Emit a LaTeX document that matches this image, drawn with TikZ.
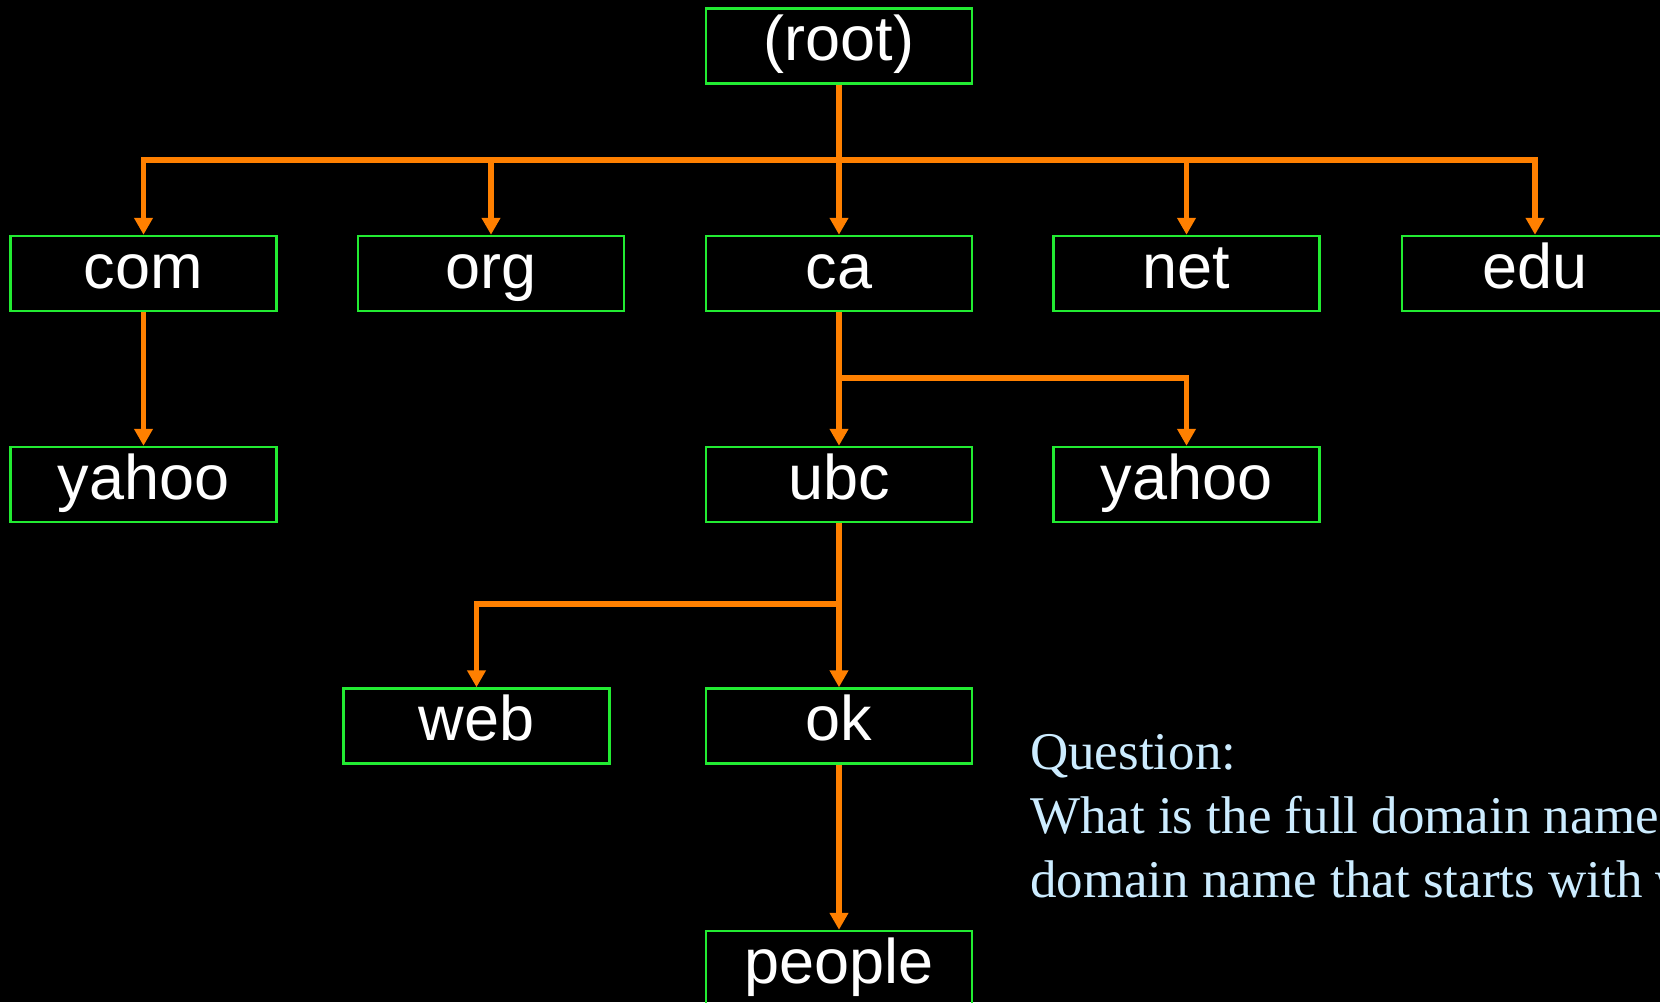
\documentclass[tikz,border=0pt]{standalone}
\usepackage{fontspec}
\setmainfont{Liberation Sans}
\newfontfamily\qfont{Liberation Serif}
\usetikzlibrary{arrows.meta}
\definecolor{boxgreen}{RGB}{34,235,50}
\definecolor{arrorange}{RGB}{255,128,0}
\definecolor{qblue}{RGB}{204,236,255}
\begin{document}
\begin{tikzpicture}[x=1pt,y=-1pt,
  dnsbox/.style={draw=boxgreen,line width=2.5pt,minimum width=266pt,minimum height=75pt,
    inner sep=0pt,text=white,font=\fontsize{63}{63}\selectfont,text height=45pt,text depth=16pt},
  link/.style={draw=arrorange,line width=5.5pt},
  arr/.style={link,-{Triangle[width=18pt,length=17pt]}},
  qtext/.style={font=\qfont\fontsize{53}{64}\selectfont,text=qblue,inner sep=0pt,anchor=base west}]
\useasboundingbox (0,0) rectangle (1660,1002);
\fill[black] (0,0) rectangle (1660,1002);
\clip (0,0) rectangle (1660,1002);

\node[dnsbox] (root) at (839,46) {(root)};
\node[dnsbox] (com) at (143.5,273.5) {com};
\node[dnsbox] (org) at (491,273.5) {org};
\node[dnsbox] (ca) at (839,273.5) {ca};
\node[dnsbox] (net) at (1186.5,273.5) {net};
\node[dnsbox] (edu) at (1535,273.5) {edu};
\node[dnsbox] (yahooA) at (143.5,484.5) {yahoo};
\node[dnsbox] (ubc) at (839,484.5) {ubc};
\node[dnsbox] (yahooB) at (1186.5,484.5) {yahoo};
\node[dnsbox] (web) at (476.5,726) {web};
\node[dnsbox] (ok) at (839,726) {ok};
\node[dnsbox] (people) at (839,968.5) {people};

\coordinate (bus) at (839,160);
\coordinate (cabr) at (839,378);
\coordinate (ubcbr) at (839,604);

\foreach \c in {com,org,ca,net,edu}
  \draw[arr] (root.south) -- (root.south |- bus) -| (\c.north);
\draw[arr] (com.south) -- (yahooA.north);
\draw[arr] (ca.south) -- (ubc.north);
\draw[arr] (ca.south) -- (ca.south |- cabr) -| (yahooB.north);
\draw[arr] (ubc.south) -- (ok.north);
\draw[arr] (ubc.south) -- (ubc.south |- ubcbr) -| (web.north);
\draw[arr] (ok.south) -- (people.north);

\node[qtext] (q1) at (1030,769) {Question:};
\node[qtext] (q2) at (1030,833) {What is the full domain name};
\node[qtext] (q3) at (1030,897) {domain name that starts with web?};
\end{tikzpicture}
\end{document}
